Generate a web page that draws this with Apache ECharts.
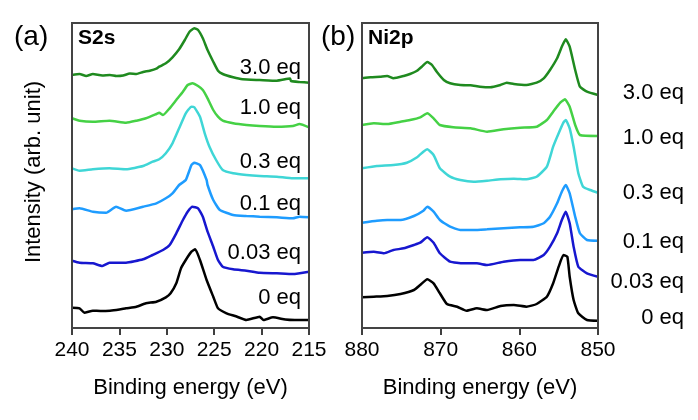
<!DOCTYPE html>
<html>
<head>
<meta charset="utf-8">
<script src="https://cdn.jsdelivr.net/npm/echarts@6/dist/echarts.min.js"></script>
<style>
  html, body { margin: 0; padding: 0; background: #fff; }
  #chart { width: 698px; height: 420px; }
</style>
</head>
<body>
<div id="chart"></div>
<script>
// labels (top to bottom in the picture)
var doseLabels = ["3.0 eq", "1.0 eq", "0.3 eq", "0.1 eq", "0.03 eq", "0 eq"];
var lineColors = ["#1f8a1f", "#45d145", "#3fd6d6", "#1e9cff", "#1717cf", "#000000"];

// S2s spectra, [binding energy, intensity (offset already included)]
var s2s_30 = [[240,253],[239.2,254],[238.5,252],[237.8,254],[236.8,252.5],[236,253],[235.3,252],[234.6,252.5],[233.9,254.5],[233.2,254],[232.5,256],[231.8,257.3],[231.1,259.3],[230.8,261.3],[230.1,264.7],[229.4,270.7],[228.7,278.7],[228.1,288],[227.6,296.3],[227.1,299.7],[226.7,298],[226.2,289.7],[225.7,278],[225.1,266.3],[224.6,257.3],[224.1,254],[223,250.7],[222,248.7],[220.2,248],[218.4,247.3],[217,249.5],[216.9,247],[216,246],[215,245.3]];
var s2s_10 = [[240,209.7],[239.2,207.3],[237.8,206.3],[236.05,207.3],[234.3,205.3],[233.2,207.3],[232.2,209.7],[231.1,214],[230.8,215.3],[230.4,213],[229.7,219.7],[229,228],[228.3,236.3],[227.8,243],[227.3,244.7],[226.7,242],[226.2,238],[225.7,229.7],[225.1,218],[224.6,211.3],[224.1,207.3],[223,204.7],[221.6,203],[220.2,202],[218.4,201.3],[216.7,202],[216,204],[215,200.7]];
var s2s_03 = [[240,159.7],[239.2,157.3],[237.8,158.7],[236.05,159.7],[234.3,158.7],[232.5,162],[231.5,166.3],[230.8,168.7],[230.1,174.7],[229.4,184.7],[228.7,199.7],[228,214.7],[227.4,221.3],[227.1,220.7],[226.5,211.3],[226,194.7],[225.5,181.3],[224.8,168],[224.1,158],[223,154.7],[221.6,153],[220.2,152],[218.4,151.3],[216.7,149.7],[215,149.7]];
var s2s_01 = [[240,118.7],[239.2,119.7],[237.8,116.3],[236.4,115.3],[235.35,121.3],[234.3,117.3],[232.5,121.3],[231.1,124.7],[230.1,129.7],[229.4,134.7],[228.7,143],[228,148],[227.4,163],[227.1,165.3],[226.5,163],[225.8,148],[225.7,143],[225.1,128],[224.4,118],[223,113],[221.6,112],[220.2,111.3],[218.4,110.7],[216.7,109.7],[216,111.3],[215,110.7]];
var s2s_003 = [[240,67.3],[239.2,65.3],[237.8,64.7],[236.8,62],[236.05,65.3],[234.3,65.3],[232.5,68.7],[231.5,73],[230.4,78],[229.7,83],[229,94.7],[228.3,108],[227.8,116.3],[227.3,121.3],[226.7,119.7],[226.2,111.3],[225.7,96.3],[225.1,81.3],[224.6,68],[224.1,61.3],[223,58.7],[221.6,57.3],[220.2,55.3],[218.4,54.7],[216.7,54],[215,56.3]];
var s2s_0 = [[240,20.3],[239.2,19.7],[238.7,15.3],[237.8,17.3],[237,17],[236,17.3],[235,18.5],[234.3,19.7],[233.2,21.3],[232.2,24.7],[231.1,26.3],[230.1,30.7],[229.6,34.7],[229,44.7],[228.5,59.7],[228,68],[227.4,76.3],[227,78.7],[226.5,68],[225.8,48],[225.1,31.3],[224.6,19.7],[223.7,14.7],[222.8,12],[221.6,8],[220.2,11.3],[219.8,8],[218.8,10.7],[217.5,8.5],[216.5,8],[215,8]];

// Ni2p spectra
var ni_30 = [[880,249.7],[878.9,250.7],[877.7,251.3],[876.8,252],[876,249.7],[874.7,252],[873.9,254],[873,257.3],[872.4,261.3],[871.7,266],[871.1,263],[870.5,256.3],[869.6,248],[868.8,244.7],[867.5,243],[866.2,242.7],[865,241.3],[863.7,240.7],[862.4,243],[861.6,245.3],[860.7,244],[859.1,243],[857.8,245.3],[856.9,249.7],[856.1,258],[855.2,269.7],[854.6,281.3],[854.1,288.7],[853.6,281.3],[852.9,258],[852.3,241.3],[851.4,236.3],[850,233]];
var ni_10 = [[880,203],[878.5,204.7],[876.8,204],[875.1,206.3],[873.9,208],[872.6,210.7],[871.7,214.7],[870.9,209.7],[870.1,203],[868.4,200.7],[866.2,199.7],[864.1,196.3],[862,198.7],[859.9,200.3],[857.8,201.3],[856.5,208],[855.7,216.3],[854.8,225.3],[854.2,228.7],[853.6,221.3],[852.9,203],[852.3,193],[850,192]];
var ni_03 = [[880,159.7],[878.1,162],[876,163],[874.3,165.3],[873,170.7],[872.2,176.3],[871.7,178.7],[870.9,173],[870.1,159.7],[868.8,151.3],[867.5,148],[865.8,146.3],[864.1,147.3],[862.4,148.7],[860.7,149.3],[859.1,148.7],[857.8,151.3],[856.5,161.3],[855.7,181.3],[855,194.7],[854.4,205.3],[854.1,208],[853.6,199.7],[853.1,181.3],[852.5,154.7],[851.9,141.3],[851,138],[850,135.3]];
var ni_01 = [[880,105.3],[878.1,107.3],[876.8,108],[875.1,108],[873.4,112],[872.2,117.3],[871.7,121.3],[870.9,116.3],[870.1,108],[868.8,101.3],[867.5,98],[865.8,98],[864.1,98.7],[862,99.7],[859.9,100.7],[858.2,101.3],[856.9,104.7],[856.1,111.3],[855.2,124.7],[854.6,136.3],[854.1,143],[853.6,134.7],[852.9,111.3],[852.3,94.7],[851.4,88],[850,87.3]];
var ni_003 = [[880,75.3],[878.5,76.3],[877.2,74.7],[876,78],[874.7,79.7],[873.4,83],[872.6,85.3],[871.7,90.7],[870.9,85.3],[870.1,74.7],[868.8,66.3],[867.1,64.7],[865.4,64.7],[864.1,63],[862,66.3],[859.9,68],[858.2,68],[856.9,73],[856.1,81.3],[855.2,94.7],[854.6,108],[854.1,116.3],[853.6,104.7],[853.1,81.3],[852.5,61.3],[851.4,54.7],[850,51.3]];
var ni_0 = [[880,30.7],[878.5,31.3],[876.8,32],[875.1,34],[873.4,38],[872.6,43],[871.7,48.7],[870.9,44.7],[870.1,34.7],[869.2,24],[867.9,21.3],[866.7,17.3],[865.4,19.7],[864.1,18],[862.4,22],[860.7,23],[859.1,21.3],[857.8,24],[856.5,31.3],[855.7,44.7],[855,61.3],[854.4,73],[853.9,71.3],[853.6,51.3],[853.1,28],[852.5,14.7],[851.4,8],[850,7.3]];

var s2sSets = [s2s_30, s2s_10, s2s_03, s2s_01, s2s_003, s2s_0];
var niSets = [ni_30, ni_10, ni_03, ni_01, ni_003, ni_0];

// label heights (same units as the spectra)
var s2sLabelY = [260, 220, 166, 124, 75, 30];
var niLabelY = [235, 190, 135, 86, 46, 10];

var chart = echarts.init(document.getElementById("chart"));
var font = "'Liberation Sans', Arial, sans-serif";

function xAxisOf(idx, min, max, step) {
  return {
    type: "value", gridIndex: idx, min: min, max: max, interval: step, inverse: true,
    axisLine: { show: true, onZero: false, lineStyle: { color: "#000", width: 1.5 } },
    axisTick: { show: true, length: 7, lineStyle: { color: "#000", width: 1.5 } },
    axisLabel: { color: "#000", fontSize: 21, fontFamily: font, margin: 12 },
    splitLine: { show: false },
    name: "Binding energy (eV)", nameLocation: "middle", nameGap: 49,
    nameTextStyle: { color: "#000", fontSize: 22, fontFamily: font }
  };
}
function yAxisOf(idx) {
  return {
    type: "value", gridIndex: idx, min: 0, max: 305,
    axisLine: { show: true, onZero: false, lineStyle: { color: "#000", width: 1.5 } },
    axisTick: { show: false }, axisLabel: { show: false }, splitLine: { show: false }
  };
}

var series = [];
s2sSets.forEach(function (d, i) {
  series.push({ type: "line", xAxisIndex: 0, yAxisIndex: 0, data: d, showSymbol: false,
    smooth: 0.15, lineStyle: { color: lineColors[i], width: 2.5 }, silent: true });
});
niSets.forEach(function (d, i) {
  series.push({ type: "line", xAxisIndex: 1, yAxisIndex: 1, data: d, showSymbol: false,
    smooth: 0.15, lineStyle: { color: lineColors[i], width: 2.5 }, silent: true });
});

var gridBoxes = [
  { left: 72, top: 23, width: 237, height: 305 },
  { left: 362, top: 23, width: 236, height: 305 }
];

var option = {
  animation: false,
  grid: gridBoxes.map(function (b) {
    return { left: b.left, top: b.top, width: b.width, height: b.height,
      show: true, borderColor: "#444", borderWidth: 2, backgroundColor: "transparent" };
  }),
  xAxis: [xAxisOf(0, 215, 240, 5), xAxisOf(1, 850, 880, 10)],
  yAxis: [yAxisOf(0), yAxisOf(1)],
  series: series
};
chart.setOption(option);

var g = [];
// panel frames
gridBoxes.forEach(function (b) {
  g.push({ type: "rect", z: 10, silent: true,
    shape: { x: b.left, y: b.top, width: b.width, height: b.height },
    style: { stroke: "#444", lineWidth: 2, fill: "transparent" } });
});
function txt(x, y, s, size, align, bold) {
  g.push({ type: "text", x: x, y: y, style: { text: s, fill: "#000", font: (bold ? "bold " : "") + size + "px " + font,
    textAlign: align, textVerticalAlign: "middle" } });
}
doseLabels.forEach(function (s, i) {
  var p = chart.convertToPixel({ gridIndex: 0 }, [0, s2sLabelY[i]]);
  txt(301, p[1], s, 22, "right", false);
  var q = chart.convertToPixel({ gridIndex: 1 }, [0, niLabelY[i]]);
  txt(684, q[1], s, 22, "right", false);
});
txt(14, 37, "(a)", 28, "left", false);
txt(321, 37, "(b)", 28, "left", false);
txt(78, 38, "S2s", 21, "left", true);
txt(368, 38, "Ni2p", 21, "left", true);
g.push({ type: "text", x: 34, y: 172, rotation: Math.PI / 2,
  style: { text: "Intensity (arb. unit)", fill: "#000", font: "22px " + font, textAlign: "center", textVerticalAlign: "middle" } });
chart.setOption({ graphic: g });
</script>
</body>
</html>
